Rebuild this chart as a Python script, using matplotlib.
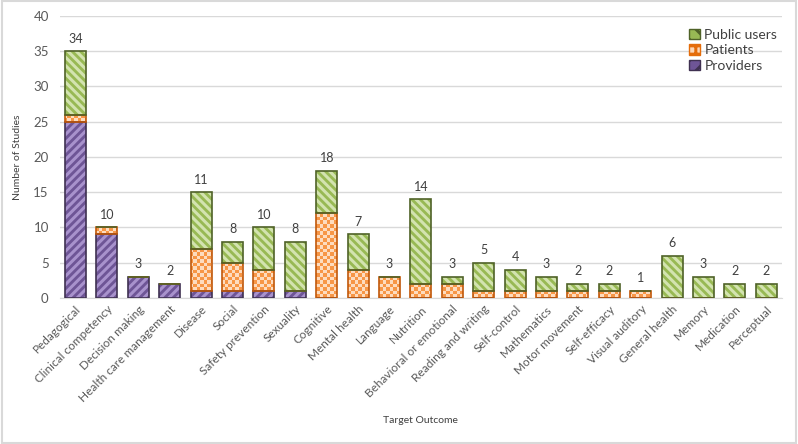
import matplotlib
matplotlib.use("Agg")
import matplotlib.pyplot as plt
import numpy as np
from matplotlib.patches import Rectangle, Patch
from matplotlib.path import Path
from matplotlib.colors import ListedColormap

categories = ["Pedagogical", "Clinical competency", "Decision making", "Health care management",
              "Disease", "Social", "Safety prevention", "Sexuality", "Cognitive", "Mental health",
              "Language", "Nutrition", "Behavioral or emotional", "Reading and writing",
              "Self-control", "Mathematics", "Motor movement", "Self-efficacy", "Visual auditory",
              "General health", "Memory", "Medication", "Perceptual"]
providers = [25, 9, 3, 2, 1, 1, 1, 1, 0, 0, 0, 0, 0, 0, 0, 0, 0, 0, 0, 0, 0, 0, 0]
patients = [1, 1, 0, 0, 6, 4, 3, 0, 12, 4, 3, 2, 2, 1, 1, 1, 1, 1, 1, 0, 0, 0, 0]
public_users = [9, 0, 0, 0, 8, 3, 6, 7, 6, 5, 0, 12, 1, 4, 3, 2, 1, 1, 0, 6, 3, 2, 2]
labels = [34, 10, 3, 2, 11, 8, 10, 8, 18, 7, 3, 14, 3, 5, 4, 3, 2, 2, 1, 6, 3, 2, 2]

plt.rcParams['font.family'] = ['Lato', 'DejaVu Sans']
plt.rcParams['hatch.linewidth'] = 2.2

fig = plt.figure(figsize=(7.98, 4.44), dpi=100)
ax = fig.add_axes([0.075, 0.329, 0.905, 0.635])

x = np.arange(len(categories))
w = 0.67
prov = np.array(providers)
pat = np.array(patients)
pub = np.array(public_users)

ax.set_xlim(-0.5, len(categories) - 0.5)
ax.set_ylim(0, 40)

# Providers
ax.bar(x, prov, w, color="#6E5596", edgecolor="#A892CC", hatch="////", linewidth=0, zorder=2)
ax.bar(x, prov, w, fill=False, edgecolor="#3F3151", linewidth=1.2, zorder=3)

# Patients: checkerboard fill
pbars = ax.bar(x, pat, w, bottom=prov, color="#FCD5B5", linewidth=0, zorder=2)
ny, nx = 80, 206
checker = (np.add.outer(np.arange(ny), np.arange(nx)) % 2).astype(float)
img = ax.imshow(checker, cmap=ListedColormap(["#FDDCBF", "#F79646"]),
                extent=(-0.5, len(categories) - 0.5, 0, 40),
                aspect='auto', interpolation='nearest', origin='lower', zorder=2.5)
rects = []
for r in pbars.patches:
    if r.get_height() > 0:
        rects.append(Path.unit_rectangle().transformed(r.get_patch_transform()))
clip = Path.make_compound_path(*rects)
img.set_clip_path(clip, ax.transData)
ax.bar(x, pat, w, bottom=prov, fill=False, edgecolor="#C0580A", linewidth=1.2, zorder=3)

# Public users
ax.bar(x, pub, w, bottom=prov + pat, color="#98B954", edgecolor="#D3E3B0", hatch="\\\\\\\\",
       linewidth=0, zorder=2)
ax.bar(x, pub, w, bottom=prov + pat, fill=False, edgecolor="#4F6228", linewidth=1.2, zorder=3)

totals = prov + pat + pub
for xi, t, lab in zip(x, totals, labels):
    ax.text(xi, t + 1.8, str(lab), ha='center', va='center', fontsize=9, color='#404040')

ax.set_yticks(range(0, 41, 5))
ax.yaxis.grid(True, color='#D9D9D9', linewidth=1, zorder=0)
ax.set_axisbelow(True)
for s in ['top', 'right', 'left']:
    ax.spines[s].set_visible(False)
ax.spines['bottom'].set_color('#D9D9D9')
ax.tick_params(axis='both', length=0, colors='#595959')
ax.tick_params(axis='y', labelsize=9.5, pad=8)
ax.set_xticks(x)
ax.set_xticklabels(categories, rotation=45, ha='right', rotation_mode='anchor', fontsize=8.5)
ax.tick_params(axis='x', pad=4)
ax.set_ylabel("Number of Studies", fontsize=7.5, color='#404040', labelpad=8)
fig.text(0.527, 0.054, "Target Outcome", ha='center', va='center', fontsize=7.5, color='#404040')

leg_handles = [
    Patch(facecolor="#98B954", edgecolor="#4F6228", hatch="\\\\", linewidth=1),
    Patch(facecolor="#FCD5B5", edgecolor="#E46C0A", hatch="++", linewidth=1),
    Patch(facecolor="#6E5596", edgecolor="#3F3151", hatch="//", linewidth=1),
]
leg = ax.legend(leg_handles, ["Public users", "Patients", "Providers"], loc='upper right',
                bbox_to_anchor=(1.005, 0.985), frameon=False, fontsize=10, handlelength=0.8,
                handleheight=0.8, handletextpad=0.3, labelspacing=0.25, borderaxespad=0.2)
for t in leg.get_texts():
    t.set_color('#404040')

fig.add_artist(Rectangle((0.002, 0.003), 0.996, 0.994, transform=fig.transFigure,
                         fill=False, edgecolor='#D9D9D9', linewidth=1.5))

fig.savefig("out.png", dpi=100)
